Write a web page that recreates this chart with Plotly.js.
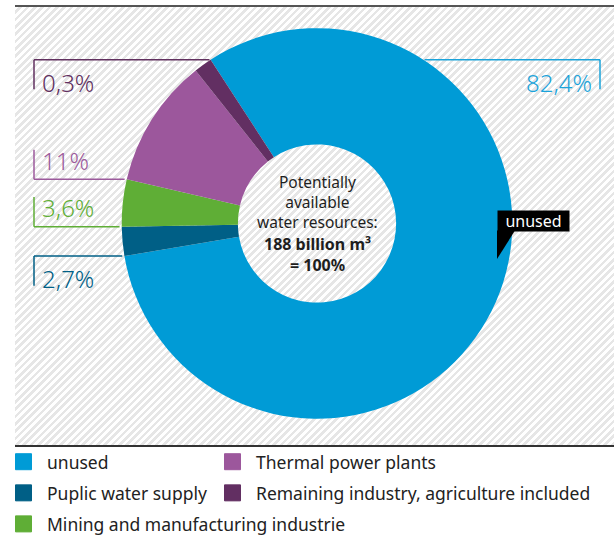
<!DOCTYPE html>
<html><head><meta charset="utf-8">
<script src="https://cdn.plot.ly/plotly-3.0.1.min.js"></script>
<style>
html,body{margin:0;padding:0;background:#fff;}
#wrap{position:relative;width:614px;height:542px;overflow:hidden;}
#hatch{position:absolute;left:15px;top:5px;width:599px;height:442px;box-sizing:border-box;border-top:2px solid #555;border-bottom:2px solid #333;
background:repeating-linear-gradient(135deg,#ffffff 0px,#ffffff 2.6px,#e6e6e6 2.6px,#e6e6e6 5.2px);}
#chart{position:absolute;left:0;top:0;width:614px;height:542px;}
</style></head><body>
<div id="wrap"><div id="hatch"></div><div id="chart"></div></div>
<script>
// ---- data ----
const categories = ['unused', 'Puplic water supply', 'Mining and manufacturing industrie', 'Thermal power plants', 'Remaining industry, agriculture included'];
const sliceValues = [81.5, 2.4, 3.9, 10.7, 1.5];          // slice sizes as drawn
const percentLabels = ['82,4%', '2,7%', '3,6%', '11%', '0,3%'];
const sliceColors = ['#009bd6', '#005f86', '#5fae36', '#9c579c', '#622f62'];
const labelColors = ['#1aa3da', '#005f86', '#5fae36', '#9c5a9c', '#61305f'];
const legendColumns = [
  ['unused', 'Puplic water supply', 'Mining and manufacturing industrie'],
  ['Thermal power plants', 'Remaining industry, agriculture included']
];
const centerLines = ['Potentially', 'available', 'water resources:'];
const centerBold = ['188 billion m³', '= 100%'];
const calloutText = 'unused';

// ---- geometry / style ----
const W = 614, H = 542;
const cx = 317, cy = 226, R = 197.5, rotation = -33;
const FONT = 'Noto Sans, Open Sans, sans-serif';
const px = x => x / W;
const py = y => 1 - y / H;

const total = sliceValues.reduce((a, b) => a + b, 0);
const starts = [];
let acc = 0;
sliceValues.forEach(v => { starts.push(rotation + 360 * acc / total); acc += v; });
const ends = sliceValues.map((v, i) => starts[i] + 360 * v / total);
function onCircle(deg) {
  const t = deg * Math.PI / 180;
  return [cx + R * Math.sin(t), cy - R * Math.cos(t)];
}

// label anchors: [angle, side('L'/'R'), text below(+1)/above(-1)]
const anchorSpec = [
  [-starts[0], 'R', 1],
  [starts[1], 'L', 1],
  [starts[2], 'L', -1],
  [starts[3], 'L', -1],
  [ends[4], 'L', 1]
];

const shapes = [];
const annotations = [];
anchorSpec.forEach((a, i) => {
  const [ax, ay] = onCircle(a[0]);
  const xv = a[1] === 'L' ? 34 : 600;
  const col = labelColors[i];
  shapes.push({type: 'line', xref: 'paper', yref: 'paper', x0: px(xv), x1: px(ax), y0: py(ay), y1: py(ay), line: {color: col, width: 1.5}});
  shapes.push({type: 'line', xref: 'paper', yref: 'paper', x0: px(xv), x1: px(xv), y0: py(ay), y1: py(ay + 30 * a[2]), line: {color: col, width: 1.5}});
  annotations.push({
    text: percentLabels[i], showarrow: false, xref: 'paper', yref: 'paper',
    x: px(a[1] === 'L' ? 40 : 594), xanchor: a[1] === 'L' ? 'left' : 'right',
    y: py(ay + (a[2] > 0 ? 23 : -19)), yanchor: 'middle',
    font: {family: FONT, size: 24, color: col, weight: 300}
  });
});

annotations.push({
  text: centerLines.join('<br>'), showarrow: false, xref: 'paper', yref: 'paper', x: px(cx), y: py(204),
  xanchor: 'center', yanchor: 'middle', font: {family: FONT, size: 15.5, color: '#1e1e1e'}
});
annotations.push({
  text: '<b>' + centerBold.join('<br>') + '</b>', showarrow: false, xref: 'paper', yref: 'paper', x: px(cx), y: py(257.5),
  xanchor: 'center', yanchor: 'middle', font: {family: FONT, size: 16, color: '#1e1e1e'}
});

// callout
annotations.push({
  text: calloutText, showarrow: false, xref: 'paper', yref: 'paper', x: px(497), y: py(223.5),
  xanchor: 'left', yanchor: 'middle', bgcolor: '#000', borderpad: 2, width: 67, height: 16,
  font: {family: FONT, size: 16, color: '#fff'}
});
shapes.push({type: 'path', xref: 'paper', yref: 'paper',
  path: `M ${px(497)},${py(233)} L ${px(515)},${py(233)} L ${px(497)},${py(262)} Z`,
  fillcolor: '#000', line: {width: 0}});

const traces = [{
  type: 'pie', labels: categories, values: sliceValues, sort: false, direction: 'clockwise',
  rotation: rotation, hole: 80 / R, textinfo: 'none', hoverinfo: 'none', showlegend: false,
  marker: {colors: sliceColors, line: {width: 0}},
  domain: {x: [px(cx - R), px(cx + R)], y: [py(cy + R), py(cy - R)]}
}];

const colX = [0, 209];
const rowMid = [467, 498.5, 530];
const layout = {width: W, height: H, margin: {l: 0, r: 0, t: 0, b: 0},
  paper_bgcolor: 'rgba(0,0,0,0)', plot_bgcolor: 'rgba(0,0,0,0)',
  xaxis: {visible: false}, yaxis: {visible: false}, showlegend: true,
  shapes: shapes, annotations: annotations};
let n = 0;
legendColumns.forEach((col, c) => col.forEach((name, r) => {
  const key = n === 0 ? 'legend' : 'legend' + (n + 1);
  const color = sliceColors[categories.indexOf(name)];
  traces.push({type: 'scatter', x: [null], y: [null], mode: 'markers', name: name,
    legend: key, hoverinfo: 'skip',
    marker: {symbol: 'square', size: 16, color: color, line: {width: 1, color: color}}});
  layout[key] = {
    orientation: 'h', x: px(colX[c]), xanchor: 'left', y: py(rowMid[r]), yanchor: 'middle',
    itemwidth: 37, bgcolor: 'rgba(0,0,0,0)', borderwidth: 0,
    font: {family: FONT, size: 17.5, color: '#222'}, itemclick: false, itemdoubleclick: false
  };
  n++;
}));
Plotly.newPlot('chart', traces, layout, {displayModeBar: false, staticPlot: true});
</script></body></html>
